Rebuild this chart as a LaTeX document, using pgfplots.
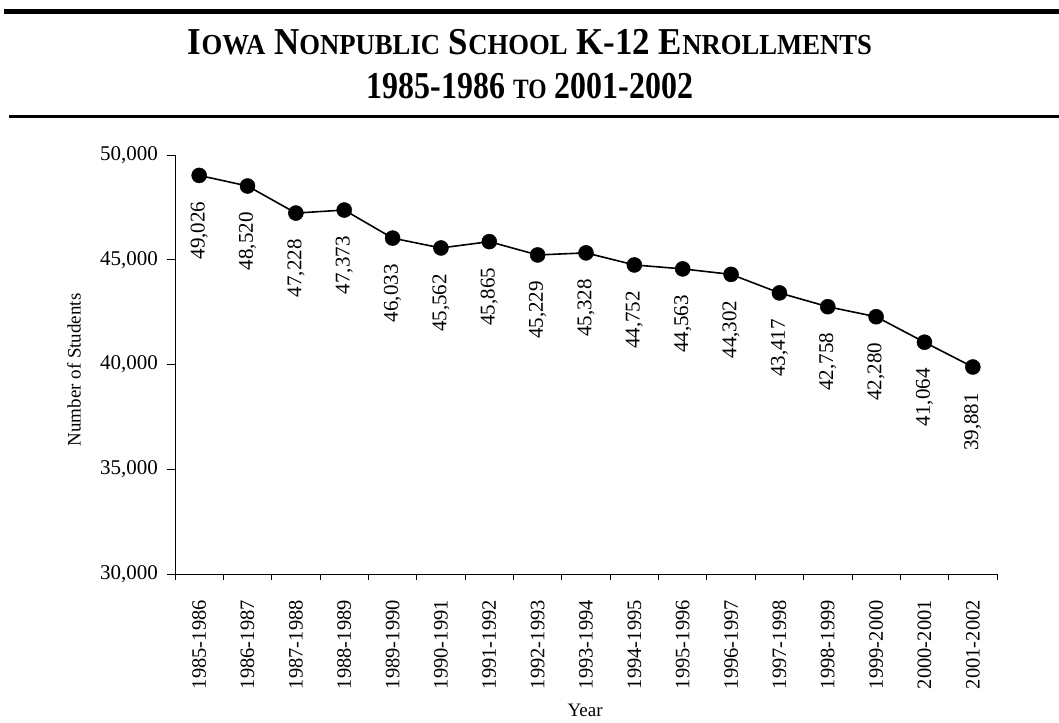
\documentclass[border=0pt]{standalone}
\usepackage{fontspec}
\setmainfont{Liberation Serif}
\usepackage{graphicx}
\usepackage{pgfplots}
\pgfplotsset{compat=1.18}
% font size in bp
\newcommand\fsz[1]{\fontsize{#1bp}{#1bp}\selectfont}
% faked small caps for the title
\newcommand\tsc[2]{#1{\fsz{29}#2}}

\begin{document}
\begin{tikzpicture}
\path[use as bounding box] (0bp,0bp) rectangle (1059bp,723bp);
% rules round the title
\draw[line width=5bp] (4bp,711bp) -- (1059bp,711bp);
\draw[line width=3bp] (9bp,606bp) -- (1059bp,606bp);
\node[font=\fsz{38}\bfseries] at (530bp,681bp)
  {\scalebox{0.92}[1]{\tsc{I}{OWA} \tsc{N}{ONPUBLIC} \tsc{S}{CHOOL} K-12 \tsc{E}{NROLLMENTS}}};
\node[font=\fsz{38}\bfseries] at (530bp,637bp)
  {\scalebox{0.84}[1]{1985-1986 {\fsz{28}TO} 2001-2002}};

\begin{axis}[
    at={(175bp,149bp)}, anchor=south west,
    scale only axis,
    width=822bp, height=419bp,
    xmin=-0.5, xmax=16.5,
    ymin=30000, ymax=50000,
    axis lines*=left,
    axis line style={line width=0.8bp},
    clip=false,
    tick align=outside,
    major tick length=8bp,
    minor tick length=6bp,
    every tick/.style={black, line width=0.8bp},
    xtick={0,...,16},
    minor xtick={-0.5,0.5,...,16.5},
    major x tick style={draw=none},
    xticklabels={1985-1986,1986-1987,1987-1988,1988-1989,1989-1990,1990-1991,
      1991-1992,1992-1993,1993-1994,1994-1995,1995-1996,1996-1997,1997-1998,
      1998-1999,1999-2000,2000-2001,2001-2002},
    xticklabel style={font=\fsz{20.5}, rotate=90, anchor=east, inner sep=0pt, xshift=-18bp},
    ytick={30000,35000,...,50000},
    scaled y ticks=false,
    yticklabel style={font=\fsz{21}, inner sep=0pt, xshift=-9bp},
    /pgf/number format/1000 sep={,},
    /pgf/number format/fixed,
    /pgf/number format/precision=0,
    /pgf/number format/assume math mode=true,
    xlabel={Year},
    ylabel={Number of Students},
    xlabel style={font=\fsz{19}, at={(axis description cs:0.499,-0.3246)}, anchor=center},
    ylabel style={font=\fsz{19}, at={(axis description cs:-0.1229,0.487)}, anchor=center, rotate=0},
    nodes near coords,
    every node near coord/.append style={font=\fsz{21}, yshift=-26bp, rotate=90, anchor=east, inner sep=0pt},
  ]
  \addplot[black, line width=1.6bp, mark=*, mark size=7.5bp, mark options={fill=black, line width=0.5bp}]
    coordinates {
      (0,49026) (1,48520) (2,47228) (3,47373) (4,46033) (5,45562)
      (6,45865) (7,45229) (8,45328) (9,44752) (10,44563) (11,44302)
      (12,43417) (13,42758) (14,42280) (15,41064) (16,39881)
    };
\end{axis}
\end{tikzpicture}
\end{document}
